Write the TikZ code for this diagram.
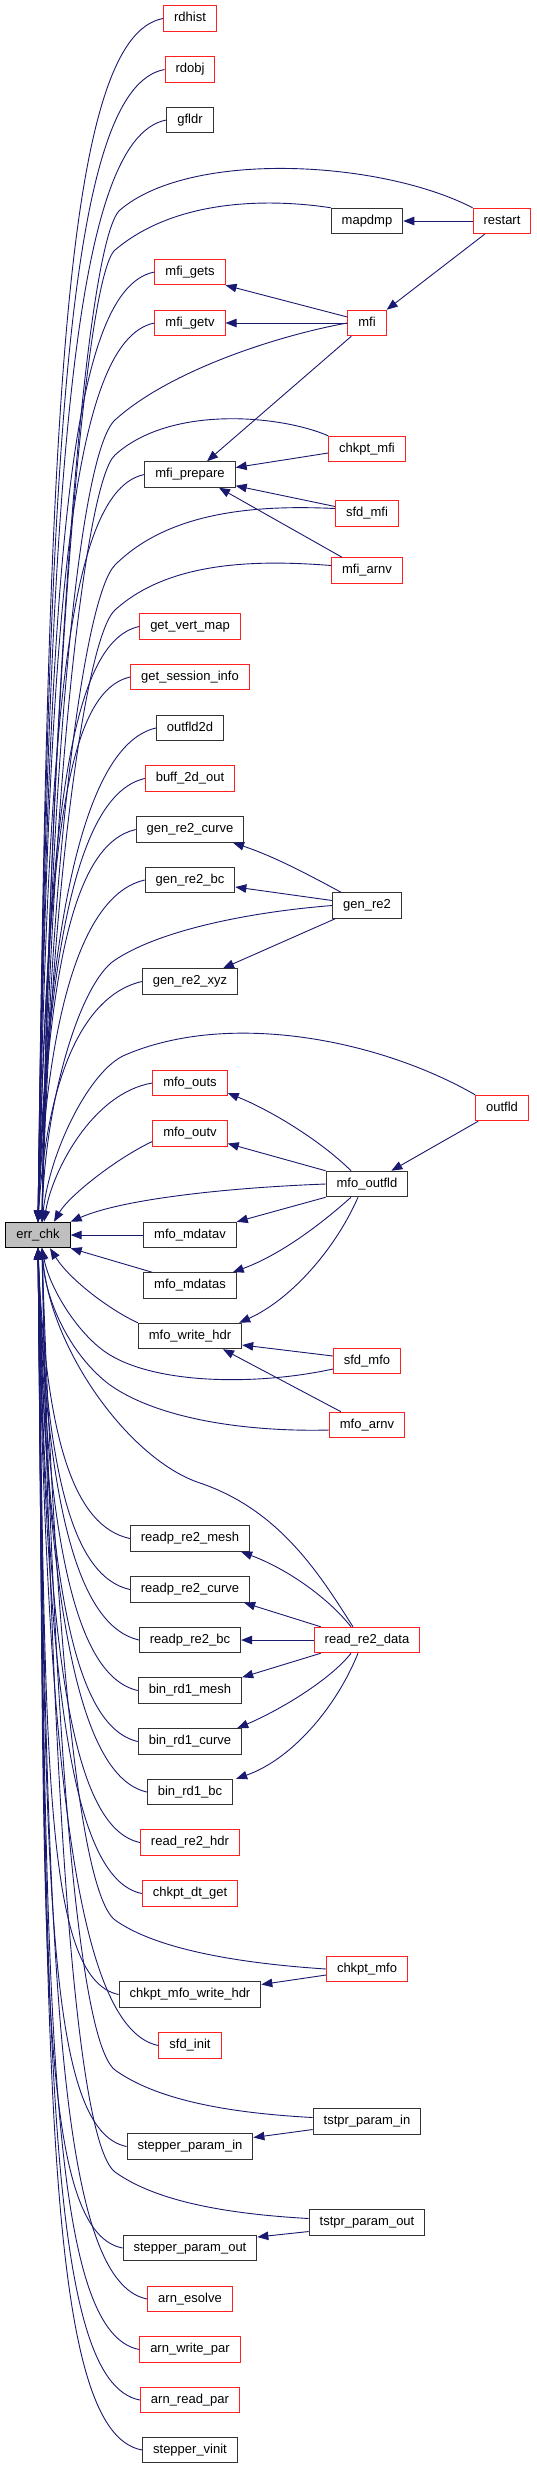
\documentclass[tikz,border=0pt]{standalone}
\usepackage{fontspec}
\setmainfont{Liberation Sans}
\usepackage{tikz}
\usetikzlibrary{arrows.meta}
\definecolor{linkblue}{HTML}{191970}
\definecolor{boxred}{HTML}{FF2020}
\definecolor{boxgrey}{HTML}{BFBFBF}
\newcommand{\fnfont}{\fontsize{13}{15}\selectfont}

\begin{document}
\begin{tikzpicture}[x=1pt,y=1pt,
    fn/.style={draw=black!80,line width=1pt,fill=white,minimum height=25.5pt,
      inner xsep=10.5pt,inner ysep=0pt,text height=9.5pt,text depth=2.7pt,font=\fnfont},
    fnred/.style={fn,draw=boxred},
    root/.style={fn,fill=boxgrey,draw=black},
    call/.style={draw=linkblue,line width=0.9pt,-{Triangle[length=11pt,width=8.5pt]}}]
  \useasboundingbox (0,0) rectangle (537,-2469);

  % callers of err_chk, top to bottom
  \node[fnred] (rdhist) at (190,-18.5) {rdhist};
  \node[fnred] (rdobj) at (190,-69.5) {rdobj};
  \node[fn] (gfldr) at (190,-120) {gfldr};
  \node[fn] (mapdmp) at (367,-221) {mapdmp};
  \node[fnred] (restart) at (502,-221) {restart};
  \node[fnred] (mfigets) at (190,-272) {mfi\_gets};
  \node[fnred] (mfigetv) at (190,-323) {mfi\_getv};
  \node[fnred] (mfi) at (367,-323) {mfi};
  \node[fnred] (chkptmfi) at (367,-449) {chkpt\_mfi};
  \node[fn] (mfiprepare) at (190,-474.5) {mfi\_prepare};
  \node[fnred] (sfdmfi) at (367,-513.5) {sfd\_mfi};
  \node[fnred] (mfiarnv) at (367,-570.5) {mfi\_arnv};
  \node[fnred] (getvertmap) at (190,-626.5) {get\_vert\_map};
  \node[fnred] (getsessioninfo) at (190,-677) {get\_session\_info};
  \node[fn] (outfldtwod) at (190,-728) {outfld2d};
  \node[fnred] (bufftwodout) at (190,-778.5) {buff\_2d\_out};
  \node[fn] (genrecurve) at (190,-829.5) {gen\_re2\_curve};
  \node[fn] (genrebc) at (190,-880) {gen\_re2\_bc};
  \node[fn] (genre) at (367,-905.5) {gen\_re2};
  \node[fn] (genrexyz) at (190,-981.5) {gen\_re2\_xyz};
  \node[fnred] (mfoouts) at (190,-1083) {mfo\_outs};
  \node[fnred] (outfld) at (502,-1108) {outfld};
  \node[fnred] (mfooutv) at (190,-1133.5) {mfo\_outv};
  \node[fn] (mfooutfld) at (367,-1184) {mfo\_outfld};
  \node[root] (errchk) at (38,-1235) {err\_chk};
  \node[fn] (mfomdatav) at (190,-1235) {mfo\_mdatav};
  \node[fn] (mfomdatas) at (190,-1285.5) {mfo\_mdatas};
  \node[fn] (mfowritehdr) at (190,-1336) {mfo\_write\_hdr};
  \node[fnred] (sfdmfo) at (367,-1361) {sfd\_mfo};
  \node[fnred] (mfoarnv) at (367,-1425) {mfo\_arnv};
  \node[fn] (readpremesh) at (190,-1538.5) {readp\_re2\_mesh};
  \node[fn] (readprecurve) at (190,-1589.5) {readp\_re2\_curve};
  \node[fn] (readprebc) at (190,-1640) {readp\_re2\_bc};
  \node[fnred] (readredata) at (367,-1640) {read\_re2\_data};
  \node[fn] (binrdmesh) at (190,-1690.5) {bin\_rd1\_mesh};
  \node[fn] (binrdcurve) at (190,-1741.5) {bin\_rd1\_curve};
  \node[fn] (binrdbc) at (190,-1792) {bin\_rd1\_bc};
  \node[fnred] (readrehdr) at (190,-1842.5) {read\_re2\_hdr};
  \node[fnred] (chkptdtget) at (190,-1893.5) {chkpt\_dt\_get};
  \node[fnred] (chkptmfo) at (367,-1969) {chkpt\_mfo};
  \node[fn] (chkptmfowritehdr) at (190,-1994.5) {chkpt\_mfo\_write\_hdr};
  \node[fnred] (sfdinit) at (190,-2045.5) {sfd\_init};
  \node[fn] (tstprparamin) at (367,-2121.5) {tstpr\_param\_in};
  \node[fn] (stepperparamin) at (190,-2146.5) {stepper\_param\_in};
  \node[fn] (tstprparamout) at (367,-2222.5) {tstpr\_param\_out};
  \node[fn] (stepperparamout) at (190,-2248) {stepper\_param\_out};
  \node[fnred] (arnesolve) at (190,-2299) {arn\_esolve};
  \node[fnred] (arnwritepar) at (190,-2349.5) {arn\_write\_par};
  \node[fnred] (arnreadpar) at (190,-2400) {arn\_read\_par};
  \node[fn] (steppervinit) at (190,-2450) {stepper\_vinit};

  % direct callers above err_chk
  \draw[call] (rdhist.west) .. controls +(-100,-18) and +(10,800) .. (errchk.north);
  \draw[call] (rdobj.west) .. controls +(-98,-18) and +(10,770) .. (errchk.north);
  \draw[call] (gfldr.west) .. controls +(-95,-18) and +(10,735) .. (errchk.north);
  \draw[call] (mfigets.west) .. controls +(-88,-17) and +(10,635) .. (errchk.north);
  \draw[call] (mfigetv.west) .. controls +(-85,-17) and +(10,600) .. (errchk.north);
  \draw[call] (mfiprepare.west) .. controls +(-77,-16) and +(10,500) .. (errchk.north);
  \draw[call] (getvertmap.west) .. controls +(-70,-15) and +(10,400) .. (errchk.north);
  \draw[call] (getsessioninfo.west) .. controls +(-67,-15) and +(10,365) .. (errchk.north);
  \draw[call] (outfldtwod.west) .. controls +(-65,-15) and +(10,330) .. (errchk.north);
  \draw[call] (bufftwodout.west) .. controls +(-62,-14) and +(10,295) .. (errchk.north);
  \draw[call] (genrecurve.west) .. controls +(-60,-14) and +(10,262) .. (errchk.north);
  \draw[call] (genrebc.west) .. controls +(-57,-13) and +(10,228) .. (errchk.north);
  \draw[call] (genrexyz.west) .. controls +(-52,-12) and +(10,160) .. (errchk.north);
  \draw[call] (mfoouts.west) .. controls +(-60,-10) and +(8,50) .. ([xshift=6pt]errchk.north);
  \draw[call] ([yshift=-8pt]mfooutv.west) .. controls +(-36,-17) and +(15,26) .. ([xshift=16pt]errchk.north);

  % long arcs from the right
  \draw[call] (restart.north west) .. controls (380,-160) and (190,-150) .. (120,-210)
    .. controls (85,-240) and (50,-700) .. ([xshift=4pt]errchk.north);
  \draw[call] (mapdmp.north west) .. controls (280,-200) and (180,-195) .. (115,-250)
    .. controls (85,-275) and (50,-700) .. ([xshift=4pt]errchk.north);
  \draw[call] (mfi.west) .. controls (280,-335) and (170,-370) .. (115,-420)
    .. controls (80,-452) and (50,-750) .. ([xshift=4pt]errchk.north);
  \draw[call] (chkptmfi.north west) .. controls (280,-415) and (170,-405) .. (115,-455)
    .. controls (85,-482) and (50,-800) .. ([xshift=4pt]errchk.north);
  \draw[call] ([yshift=5pt]sfdmfi.west) .. controls (260,-505) and (170,-510) .. (115,-565)
    .. controls (85,-595) and (50,-850) .. ([xshift=4pt]errchk.north);
  \draw[call] ([yshift=5pt]mfiarnv.west) .. controls (260,-560) and (170,-560) .. (115,-610)
    .. controls (85,-637) and (50,-900) .. ([xshift=4pt]errchk.north);
  \draw[call] (genre.west) .. controls (250,-912) and (160,-930) .. (115,-960)
    .. controls (80,-983) and (45,-1100) .. ([xshift=4pt]errchk.north);
  \draw[call] (outfld.north west) .. controls (380,-1040) and (230,-1010) .. (125,-1055)
    .. controls (90,-1070) and (50,-1150) .. ([xshift=4pt]errchk.north);
  \draw[call] (mfooutfld.west) .. controls (220,-1188) and (120,-1200) .. (errchk.north east);
  \draw[call] (mfomdatav.west) -- (errchk.east);
  \draw[call] ([xshift=9pt]mfomdatas.north west) -- (errchk.south east);
  \draw[call] (mfowritehdr.north west) .. controls (110,-1310) and (70,-1280) .. ([xshift=12pt]errchk.south);
  \draw[call] ([yshift=-8pt]sfdmfo.west) .. controls (260,-1385) and (160,-1385) .. (110,-1355)
    .. controls (80,-1337) and (50,-1290) .. ([xshift=4pt]errchk.south);
  \draw[call] ([yshift=-5pt]mfoarnv.west) .. controls (250,-1432) and (160,-1420) .. (110,-1385)
    .. controls (70,-1355) and (45,-1300) .. ([xshift=4pt]errchk.south);
  \draw[call] ([xshift=-14pt]readredata.north) .. controls (320,-1575) and (280,-1510) .. (200,-1483)
    .. controls (130,-1460) and (50,-1350) .. ([xshift=4pt]errchk.south);
  \draw[call] (chkptmfo.west) .. controls (220,-1962) and (150,-1945) .. (115,-1920)
    .. controls (70,-1885) and (50,-1500) .. ([xshift=4pt]errchk.south);
  \draw[call] ([yshift=4pt]tstprparamin.west) .. controls (210,-2112) and (150,-2095) .. (115,-2070)
    .. controls (70,-2035) and (50,-1600) .. ([xshift=4pt]errchk.south);
  \draw[call] ([yshift=4pt]tstprparamout.west) .. controls (210,-2213) and (150,-2197) .. (115,-2172)
    .. controls (70,-2137) and (50,-1700) .. ([xshift=4pt]errchk.south);

  % direct callers below err_chk
  \draw[call] (readpremesh.west) .. controls +(-55,12) and +(8,-195) .. (errchk.south);
  \draw[call] (readprecurve.west) .. controls +(-57,13) and +(8,-228) .. (errchk.south);
  \draw[call] (readprebc.west) .. controls +(-60,14) and +(8,-262) .. (errchk.south);
  \draw[call] (binrdmesh.west) .. controls +(-62,14) and +(8,-296) .. (errchk.south);
  \draw[call] (binrdcurve.west) .. controls +(-65,15) and +(8,-330) .. (errchk.south);
  \draw[call] (binrdbc.west) .. controls +(-67,15) and +(8,-364) .. (errchk.south);
  \draw[call] (readrehdr.west) .. controls +(-70,15) and +(8,-398) .. (errchk.south);
  \draw[call] (chkptdtget.west) .. controls +(-72,15) and +(8,-432) .. (errchk.south);
  \draw[call] (chkptmfowritehdr.west) .. controls +(-77,16) and +(8,-500) .. (errchk.south);
  \draw[call] (sfdinit.west) .. controls +(-80,16) and +(8,-534) .. (errchk.south);
  \draw[call] (stepperparamin.west) .. controls +(-85,17) and +(8,-602) .. (errchk.south);
  \draw[call] (stepperparamout.west) .. controls +(-90,17) and +(8,-670) .. (errchk.south);
  \draw[call] (arnesolve.west) .. controls +(-92,18) and +(8,-704) .. (errchk.south);
  \draw[call] (arnwritepar.west) .. controls +(-95,18) and +(8,-738) .. (errchk.south);
  \draw[call] (arnreadpar.west) .. controls +(-97,18) and +(8,-772) .. (errchk.south);
  \draw[call] (steppervinit.west) .. controls +(-100,18) and +(8,-805) .. (errchk.south);

  % calls between the other functions
  \draw[call] (restart.west) -- (mapdmp.east);
  \draw[call] ([xshift=12pt]restart.south west) -- (mfi.north east);
  \draw[call] ([yshift=6pt]mfi.west) -- (mfigets.south east);
  \draw[call] (mfi.west) -- (mfigetv.east);
  \draw[call] ([xshift=4pt]mfi.south west) -- ([xshift=17pt]mfiprepare.north);
  \draw[call] ([yshift=-4pt]chkptmfi.west) -- ([yshift=7pt]mfiprepare.east);
  \draw[call] ([yshift=7pt]sfdmfi.west) -- ([yshift=2pt]mfiprepare.south east);
  \draw[call] ([xshift=-25pt]mfiarnv.north) -- ([xshift=29pt]mfiprepare.south);
  \draw[call] ([xshift=-26pt]genre.north) .. controls (300,-870) and (270,-855) .. ([xshift=43pt]genrecurve.south);
  \draw[call] ([yshift=5pt]genre.west) -- ([yshift=-7pt]genrebc.east);
  \draw[call] ([xshift=3pt]genre.south west) -- ([xshift=33pt]genrexyz.north);
  \draw[call] ([xshift=3pt]outfld.south west) -- ([xshift=-17pt]mfooutfld.north east);
  \draw[call] ([xshift=-16pt]mfooutfld.north) .. controls (320,-1140) and (270,-1110) .. ([yshift=-10pt]mfoouts.east);
  \draw[call] (mfooutfld.north west) -- ([yshift=-10pt]mfooutv.east);
  \draw[call] (mfooutfld.south west) -- (mfomdatav.north east);
  \draw[call] ([xshift=-16pt]mfooutfld.south) .. controls (320,-1225) and (280,-1255) .. ([xshift=-4pt]mfomdatas.north east);
  \draw[call] ([xshift=-9pt]mfooutfld.south) .. controls (335,-1250) and (290,-1300) .. ([xshift=-3pt]mfowritehdr.north east);
  \draw[call] ([yshift=5pt]sfdmfo.west) -- ([yshift=-9pt]mfowritehdr.east);
  \draw[call] ([xshift=-26pt]mfoarnv.north) -- ([xshift=33pt]mfowritehdr.south);
  \draw[call] ([xshift=-16pt]readredata.north) .. controls (330,-1600) and (290,-1570) .. ([xshift=-9pt]readpremesh.south east);
  \draw[call] ([xshift=7pt]readredata.north west) -- ([xshift=-6pt]readprecurve.south east);
  \draw[call] (readredata.west) -- (readprebc.east);
  \draw[call] ([xshift=7pt]readredata.south west) -- (binrdmesh.north east);
  \draw[call] ([xshift=-16pt]readredata.south) .. controls (330,-1680) and (280,-1710) .. ([xshift=-5pt]binrdcurve.north east);
  \draw[call] ([xshift=-9pt]readredata.south) .. controls (335,-1710) and (290,-1760) .. ([xshift=3pt]binrdbc.north east);
  \draw[call] ([yshift=-6pt]chkptmfo.west) -- ([yshift=10pt]chkptmfowritehdr.east);
  \draw[call] ([yshift=-8pt]tstprparamin.west) -- ([yshift=9pt]stepperparamin.east);
  \draw[call] ([yshift=-9pt]tstprparamout.west) -- ([yshift=11pt]stepperparamout.east);
\end{tikzpicture}
\end{document}
